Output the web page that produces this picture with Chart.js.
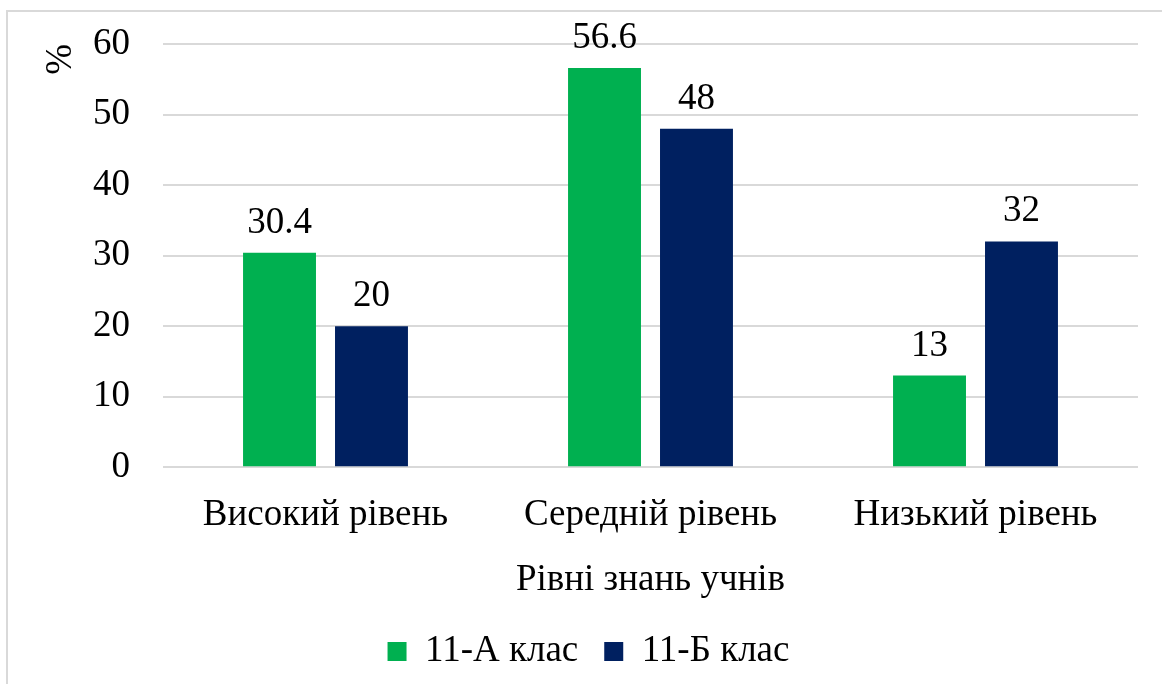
<!DOCTYPE html>
<html>
<head>
<meta charset="utf-8">
<script src="https://cdn.jsdelivr.net/npm/chart.js@4"></script>
<style>
  body { margin: 0; background: #fff; overflow: hidden; }
  #frame { position: absolute; left: 6px; top: 10px; width: 1200px; height: 720px; border: 2px solid #d9d9d9; box-sizing: border-box; }
  #levels { position: absolute; left: 0; top: 0; }
</style>
</head>
<body>
<div id="frame"></div>
<canvas id="levels" width="1162" height="684"></canvas>
<script>
const categories = ['Високий рівень', 'Середній рівень', 'Низький рівень'];
const classA = [30.4, 56.6, 13];
const classB = [20, 48, 32];
const yTicks = [0, 10, 20, 30, 40, 50, 60];

const serif = '"Liberation Serif", "Times New Roman", serif';
const fontSize = 37;
Chart.defaults.font.family = serif;
Chart.defaults.font.size = fontSize;
Chart.defaults.color = '#000';

// values above the bars
const valueLabels = {
    id: 'valueLabels',
    afterDatasetsDraw(chart) {
        const ctx = chart.ctx;
        ctx.save();
        ctx.font = fontSize + 'px ' + serif;
        ctx.fillStyle = '#000';
        ctx.textAlign = 'center';
        ctx.textBaseline = 'alphabetic';
        chart.data.datasets.forEach((ds, i) => {
            chart.getDatasetMeta(i).data.forEach((bar, j) => {
                ctx.fillText(String(ds.data[j]), bar.x, bar.y - 20);
            });
        });
        ctx.restore();
    }
};

new Chart(document.getElementById('levels').getContext('2d'), {
    type: 'bar',
    data: {
        labels: categories,
        datasets: [{
            label: '11-А клас',
            data: classA,
            backgroundColor: '#00B050'
        }, {
            label: '11-Б клас',
            data: classB,
            backgroundColor: '#002060'
        }]
    },
    options: {
        responsive: false,
        animation: false,
        categoryPercentage: 0.566,
        barPercentage: 0.793,
        layout: { padding: { left: 39, right: 24, top: 44, bottom: 4 } },
        plugins: {
            tooltip: { enabled: false },
            legend: {
                position: 'bottom',
                labels: {
                    boxWidth: 19,
                    boxHeight: 19,
                    padding: 26
                }
            }
        },
        scales: {
            x: {
                grid: { display: false },
                border: { display: false },
                ticks: { padding: 18, maxRotation: 0 },
                title: {
                    display: true,
                    text: 'Рівні знань учнів',
                    padding: { top: 2, bottom: 5 }
                }
            },
            y: {
                min: 0,
                max: 60,
                afterBuildTicks(scale) {
                    scale.ticks = yTicks.map(v => ({ value: v }));
                },
                afterFit(scale) { scale.width = 124; },
                grid: { color: '#d9d9d9', lineWidth: 2, drawTicks: true, tickLength: 33, tickColor: 'rgba(0,0,0,0)' },
                border: { display: false },
                ticks: { padding: 0 },
                title: {
                    display: true,
                    text: '%',
                    align: 'end',
                    padding: 0
                }
            }
        }
    },
    plugins: [valueLabels]
});
</script>
</body>
</html>
